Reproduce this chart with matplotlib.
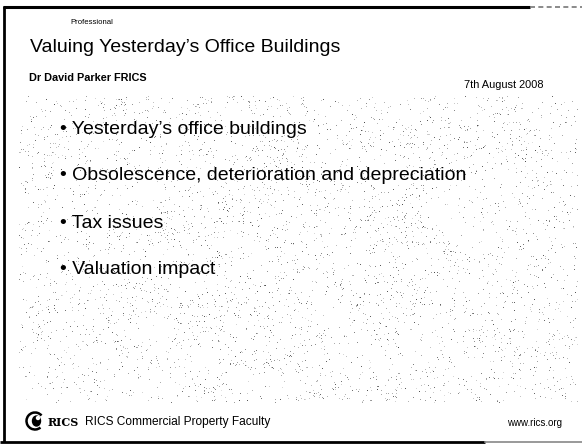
#!/usr/bin/env python3
"""Slide recreation: Valuing Yesterday's Office Buildings (RICS)"""
import numpy as np
import matplotlib
matplotlib.use('Agg')
import matplotlib.pyplot as plt
from matplotlib.patches import Arc, Ellipse

plt.rcParams['font.family'] = ['Liberation Sans', 'DejaVu Sans']

# ── slide text ──
header_tag = 'Professional'
title = 'Valuing Yesterday\u2019s Office Buildings'
author = 'Dr David Parker FRICS'
date_text = '7th August 2008'
bullets = [
    'Yesterday\u2019s office buildings',
    'Obsolescence, deterioration and depreciation',
    'Tax issues',
    'Valuation impact',
]
footer_brand = 'RICS'
footer_text = 'RICS Commercial Property Faculty'
footer_url = 'www.rics.org'

W, H = 582, 445
fig = plt.figure(figsize=(W / 100, H / 100), dpi=100)
ax = fig.add_axes([0, 0, 1, 1])
ax.set_xlim(0, W)
ax.set_ylim(H, 0)
ax.axis('off')

# ── scanned speckle texture (decorative only, not data) ──
rng = np.random.default_rng(7)
yy, xx = np.mgrid[0:H, 0:W]
zone = ((yy > 95) & (yy < 403) & (xx > 18) & (xx < 578)).astype(float)
# patchy look: coarse blotches blown up to full size
coarse = rng.random((H // 25 + 1, W // 25 + 1))
blotch = np.kron(coarse, np.ones((25, 25)))[:H, :W]
dens = 0.028 * zone * (0.4 + 1.0 * blotch)
mask = rng.random((H, W)) < dens
shade = rng.uniform(0.15, 0.7, (H, W))
tex = np.zeros((H, W, 4))
tex[..., 0] = shade
tex[..., 1] = shade
tex[..., 2] = shade
tex[..., 3] = mask * rng.uniform(0.35, 0.85, (H, W))
ax.imshow(tex, extent=(0, W, H, 0), interpolation='nearest', zorder=0)

# ── border (scan frame) ──
ax.plot([3, 530], [6.5, 6.5], color='black', lw=2.2, solid_capstyle='butt')
ax.plot([530, 582], [6.5, 6.5], color='#777777', lw=1.2, ls=(0, (3, 2)))
ax.plot([4, 4], [5.5, 442], color='black', lw=2.0, solid_capstyle='butt')
ax.plot([0, 485], [442, 442], color='black', lw=2.0, solid_capstyle='butt')
ax.plot([485, 582], [442, 442], color='#888888', lw=1.2)

# ── header ──
ax.text(70, 22, header_tag, fontsize=5.6, va='center', ha='left')
ax.text(30, 47, title, fontsize=14, va='center', ha='left')
ax.text(29, 78, author, fontsize=7.8, fontweight='bold', va='center', ha='left')
ax.text(543, 85, date_text, fontsize=7.9, va='center', ha='right')

# ── bullets ──
bullet_y = [130, 176, 223, 270]
for txt, y in zip(bullets, bullet_y):
    ax.text(60, y, '\u2022 ' + txt, fontsize=14, va='center', ha='left', zorder=3)

# ── footer: RICS lion mark, brand, faculty name, url ──
ax.add_patch(Arc((35, 421), 17, 17, theta1=50, theta2=320, color='black', lw=1.8))
ax.add_patch(Ellipse((36.5, 421), 8, 10, color='black'))
ax.add_patch(Ellipse((38, 418), 3, 3, color='white'))
ax.text(48, 422, footer_brand, fontsize=8, fontweight='bold', va='center', ha='left',
        family='DejaVu Serif')
ax.text(85, 422, footer_text, fontsize=8.6, va='center', ha='left')
ax.text(562, 423, footer_url, fontsize=7, va='center', ha='right')

plt.savefig('out.png', dpi=100)
